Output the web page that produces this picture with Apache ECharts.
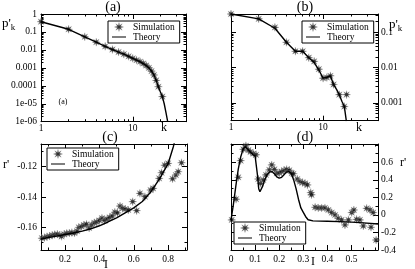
<!DOCTYPE html>
<html><head><meta charset="utf-8">
<script src="https://cdn.jsdelivr.net/npm/echarts@6/dist/echarts.min.js"></script>
<style>html,body{margin:0;padding:0;background:#fff}#c{width:415px;height:269px}</style>
</head><body><div id="c"></div>
<script>
// ---------- data ----------
// panel (a)
const aSimK = [1,2,3,4,5,6,7,8,9,10,11,12,13,14,15,16,17,18,19,21];
const aSimP = [0.372,0.141,0.0537,0.0269,0.0158,0.0105,0.0076,0.0058,0.0044,0.0034,0.0027,0.0022,0.00175,0.00135,0.001,0.00066,0.0004,0.0002,0.000089,0.000025];
const aThK = [1,2,3,4,5,6,7,8,9,10,11,12,13,14,15,16,17,18,19,20,21,22,23,24];
const aThP = [0.372,0.141,0.0537,0.0269,0.0158,0.0105,0.00759,0.00575,0.00437,0.00339,0.00269,0.00219,0.00174,0.00135,0.001,0.00066,0.0004,0.0002,0.000089,0.0000447,0.0000251,0.00001,0.00000316,0.000001];
// panel (b)
const bSimK = [1,2,3,4,5,6,7,8,9,10,11,12,13,15,17,18];
const bSimP = [0.33,0.24,0.138,0.052,0.029,0.029,0.019,0.015,0.009,0.005,0.0052,0.0058,0.0033,0.0017,0.00078,0.0017];
const bThK = [1,2,3,4,5,6,7,8,9,10,11,12,13,14,15,16,17,17.9];
const bThP = [0.33,0.24,0.13,0.052,0.029,0.029,0.019,0.014,0.0085,0.005,0.0053,0.0058,0.0033,0.0024,0.0017,0.0011,0.0008,0.0003];
// panel (c)
const cSimI = [0.065,0.08,0.095,0.11,0.125,0.14,0.155,0.17,0.18,0.195,0.21,0.225,0.24,0.255,0.27,0.28,0.295,0.31,0.325,0.34,0.355,0.37,0.385,0.40,0.415,0.43,0.445,0.46,0.475,0.49,0.505,0.52,0.535,0.55,0.568,0.594,0.617,0.636,0.665,0.698,0.713,0.748,0.762,0.78,0.80,0.826,0.845,0.859,0.878];
const cSimR = [-0.1672,-0.1668,-0.1662,-0.1658,-0.1652,-0.1648,-0.1645,-0.1652,-0.166,-0.1645,-0.164,-0.1638,-0.1635,-0.1638,-0.1625,-0.160,-0.1595,-0.1585,-0.158,-0.1605,-0.1585,-0.157,-0.1565,-0.1555,-0.154,-0.1555,-0.1545,-0.1535,-0.1525,-0.150,-0.1505,-0.146,-0.1475,-0.148,-0.1486,-0.1431,-0.149,-0.1376,-0.1398,-0.1354,-0.1343,-0.1277,-0.124,-0.119,-0.1178,-0.128,-0.1255,-0.1233,-0.1174];
const cThI = [0.06,0.1,0.15,0.2,0.25,0.3,0.35,0.4,0.45,0.5,0.55,0.6,0.65,0.7,0.75,0.8,0.83,0.845];
const cThR = [-0.1678,-0.1668,-0.1658,-0.1648,-0.1638,-0.1625,-0.161,-0.159,-0.1565,-0.1538,-0.1505,-0.1472,-0.143,-0.1365,-0.128,-0.118,-0.107,-0.1];
// panel (d)
const dSimI = [0.003,0.021,0.03,0.04,0.051,0.062,0.072,0.081,0.093,0.104,0.113,0.123,0.134,0.145,0.159,0.169,0.18,0.19,0.2,0.21,0.22,0.231,0.242,0.252,0.259,0.275,0.286,0.297,0.307,0.317,0.331,0.334,0.349,0.362,0.376,0.39,0.404,0.418,0.432,0.445,0.459,0.473,0.487,0.501,0.51,0.521,0.535,0.549,0.563,0.577,0.581,0.59,0.602];
const dSimR = [-0.057,0.18,0.43,0.62,0.75,0.79,0.74,0.72,0.70,0.686,0.41,0.36,0.40,0.457,0.514,0.571,0.52,0.476,0.48,0.495,0.51,0.52,0.51,0.476,0.47,0.41,0.38,0.37,0.36,0.343,0.255,0.23,0.088,0.08,0.08,0.08,0.057,0.027,0,-0.038,-0.057,-0.114,-0.057,0.027,0.057,-0.05,-0.057,-0.126,0.076,0.057,-0.14,0.027,-0.286];
const dThI = [0,0.01,0.02,0.03,0.04,0.05,0.058,0.07,0.08,0.09,0.1,0.105,0.11,0.115,0.12,0.125,0.13,0.14,0.15,0.16,0.17,0.18,0.19,0.2,0.21,0.22,0.23,0.24,0.25,0.26,0.27,0.28,0.29,0.3,0.31,0.32,0.34,0.4,0.45,0.5,0.55,0.61];
const dThR = [-0.06,0.12,0.33,0.52,0.66,0.75,0.78,0.75,0.72,0.69,0.675,0.66,0.45,0.3,0.265,0.27,0.32,0.4,0.46,0.49,0.495,0.47,0.435,0.42,0.43,0.46,0.49,0.495,0.475,0.4,0.3,0.18,0.08,0.03,-0.02,-0.055,-0.068,-0.072,-0.076,-0.082,-0.09,-0.103];
// tick values
const logMajorK = [1,10];
const logMinorK = [2,3,4,5,6,7,8,9,20,30];
const aYMajor = [1e-6,1e-5,1e-4,1e-3,1e-2,1e-1,1];
const bYMajor = [1e-3,1e-2,1e-1];
const cXLabels = [0.2,0.4,0.6,0.8];
const cXMinor = [0.1,0.3,0.5,0.7,0.9];
const cYLabels = [-0.16,-0.14,-0.12];
const cYMinor = [-0.17,-0.15,-0.13,-0.11];
const dXLabels = [0,0.1,0.2,0.3,0.4,0.5];
const dXMinor = [0.05,0.15,0.25,0.35,0.45,0.55,0.6];
const dYLabels = [-0.4,-0.2,0,0.2,0.4,0.6];
const dYMinor = [-0.3,-0.1,0.1,0.3,0.5,0.7,0.8];

// ---------- helpers ----------
const SERIF = "'Liberation Serif','DejaVu Serif',serif";
const ASTER = 'path://M0,-10L1.45,-3.5L7.07,-7.07L3.5,-1.45L10,0L3.5,1.45L7.07,7.07L1.45,3.5L0,10L-1.45,3.5L-7.07,7.07L-3.5,1.45L-10,0L-3.5,-1.45L-7.07,-7.07L-1.45,-3.5Z';
const LINEICON = 'path://M0,0L0.01,0M0,10L0.01,10M0,4.3L16,4.3L16,5.7L0,5.7Z';
const L10 = Math.log10;
function decadeMinors(lo, hi){ const r=[]; for(let e=lo;e<hi;e++){for(let m=2;m<=9;m++) r.push(m*Math.pow(10,e));} return r; }
const aYMinor = decadeMinors(-6,0);
const bYMinor = decadeMinors(-4,0).filter(v=>v>=3.1e-4 && v<=0.33);

const xAxes=[], yAxes=[];
function add(isX,o){ const arr=isX?xAxes:yAxes; arr.push(o); return arr.length-1; }
function mainAxis(isX,grid,type,pos,min,max,label){
  return add(isX,{type, gridIndex:grid, position:pos, min, max,
    axisLine:{show:true,onZero:false,lineStyle:{color:'#000',width:1}},
    axisTick:{show:false}, splitLine:{show:false}, minorTick:{show:false},
    axisLabel:Object.assign({color:'#000',fontFamily:SERIF,fontSize:9.5,margin:3},label)});
}
function deco(isX,grid,pos,min,max,vals,len,line){
  return add(isX,{type:'value',gridIndex:grid,position:pos,min,max,silent:true,
    axisLine:{show:!!line,onZero:false,lineStyle:{color:'#000',width:1}},
    axisLabel:{show:false}, splitLine:{show:false},
    axisTick:{show:true,inside:true,length:len,customValues:vals,lineStyle:{color:'#000',width:1}}});
}
function ticksAll(isX,grid,sides,min,max,major,minor,lineSide){
  sides.forEach(s=>{
    deco(isX,grid,s,min,max,major,5,s===lineSide);
    deco(isX,grid,s,min,max,minor,2.5,false);
  });
}
function logLabel(v){
  const e=Math.round(L10(v));
  if(e===0) return '1';
  if(e>0) return String(Math.pow(10,e));
  if(e>=-4) return '0.'+'0'.repeat(-e-1)+'1';
  return '1e-0'+(-e);
}

const grids=[
  {left:41,top:14,width:145,height:107.7},
  {left:231,top:14,width:147,height:106.7},
  {left:41,top:144,width:146,height:106},
  {left:231,top:144,width:147,height:106}
];

// panel a axes
const aX = mainAxis(true,0,'log','bottom',1,38,{showMaxLabel:false,formatter:v=>String(Math.round(v)),margin:2});
const aY = mainAxis(false,0,'log','left',1e-6,1,{formatter:logLabel,margin:4});
ticksAll(true,0,['bottom','top'],0,L10(38),logMajorK.map(L10),logMinorK.map(L10),'top');
ticksAll(false,0,['left','right'],-6,0,aYMajor.map(L10),aYMinor.map(L10),'right');
// panel b axes
const bX = mainAxis(true,1,'log','bottom',1,39.5,{showMaxLabel:false,formatter:v=>String(Math.round(v)),margin:2});
const bY = mainAxis(false,1,'log','right',3.1e-4,0.33,{showMinLabel:false,showMaxLabel:false,formatter:logLabel,margin:3});
ticksAll(true,1,['bottom','top'],0,L10(39.5),logMajorK.map(L10),logMinorK.map(L10),'top');
ticksAll(false,1,['left','right'],L10(3.1e-4),L10(0.33),bYMajor.map(L10),bYMinor.map(L10),'left');
// panel c axes
const cX = mainAxis(true,2,'value','bottom',0.06,0.91,{customValues:cXLabels,margin:4});
const cY = mainAxis(false,2,'value','left',-0.175,-0.105,{customValues:cYLabels,margin:4});
ticksAll(true,2,['bottom','top'],0.06,0.91,cXLabels,cXMinor,'top');
ticksAll(false,2,['left','right'],-0.175,-0.105,cYLabels,cYMinor,'right');
// panel d axes
const dX = mainAxis(true,3,'value','bottom',0,0.61,{customValues:dXLabels,margin:4});
const dY = mainAxis(false,3,'value','right',-0.4,0.81,{customValues:dYLabels,margin:3,formatter:v=>String(v)});
ticksAll(true,3,['bottom','top'],0,0.61,dXLabels,dXMinor,'top');
ticksAll(false,3,['left','right'],-0.4,0.81,dYLabels,dYMinor,'left');

function zip(a,b){ return a.map((v,i)=>[v,b[i]]); }
const STAR_STYLE = {color:'#000',borderColor:'rgba(140,140,140,0.55)',borderWidth:0.7};
function sim(xi,yi,xs,ys){ return {name:'Simulation',type:'scatter',xAxisIndex:xi,yAxisIndex:yi,data:zip(xs,ys),
  symbol:ASTER,symbolSize:8,itemStyle:STAR_STYLE,z:3,clip:true}; }
function th(xi,yi,xs,ys){ return {name:'Theory',type:'line',xAxisIndex:xi,yAxisIndex:yi,data:zip(xs,ys),
  symbol:'none',smooth:false,lineStyle:{color:'#000',width:1.4},itemStyle:{color:'#000'},z:4,clip:true}; }

function legend(left,top){
  return {left,top,orient:'vertical',borderColor:'#000',borderWidth:1,padding:[1,5,1,4],itemGap:0,
    itemWidth:14,itemHeight:9,backgroundColor:'#fff',selectedMode:false,
    textStyle:{fontFamily:SERIF,fontSize:9.5,color:'#000',padding:[0,0,0,2]},
    data:[{name:'Simulation',icon:ASTER,itemStyle:STAR_STYLE},
          {name:'Theory',icon:LINEICON,itemStyle:{color:'#000',borderWidth:0}}]};
}

function txt(x,y,t,size,align,extra){
  return Object.assign({type:'text',x,y,style:{text:t,fontFamily:SERIF,fontSize:size,fill:'#000',align:align||'center',verticalAlign:'middle'}},extra||{});
}
function pk(x,y){
  return {type:'text',x,y,style:{text:"{p|p'}{k|k}",fontFamily:SERIF,fill:'#000',verticalAlign:'middle',
    rich:{p:{fontSize:13,fontFamily:SERIF},k:{fontSize:9,fontFamily:SERIF,padding:[7,0,0,0]}}}};
}

const chart = echarts.init(document.getElementById('c'),null,{renderer:'canvas'});
chart.setOption({
  animation:false,
  grid:grids,
  xAxis:xAxes, yAxis:yAxes,
  legend:[legend(108,21),legend(302,21),legend(47,148),legend(234,222)],
  series:[
    sim(aX,aY,aSimK,aSimP), th(aX,aY,aThK,aThP),
    sim(bX,bY,bSimK,bSimP), th(bX,bY,bThK,bThP),
    sim(cX,cY,cSimI,cSimR), th(cX,cY,cThI,cThR),
    sim(dX,dY,dSimI,dSimR), th(dX,dY,dThI,dThR)
  ],
  graphic:[
    txt(113,7,'(a)',14), txt(305,7,'(b)',14), txt(110,137,'(c)',14), txt(305,137,'(d)',14),
    pk(2,24), pk(389,25),
    txt(164,128,'k',12), txt(359,128,'k',12),
    txt(6,165,"r'",12), txt(403,163,"r'",12),
    txt(106,265,'I',12), txt(313,262,'I',12),
    txt(63,102,'(a)',8)
  ]
});
</script></body></html>
